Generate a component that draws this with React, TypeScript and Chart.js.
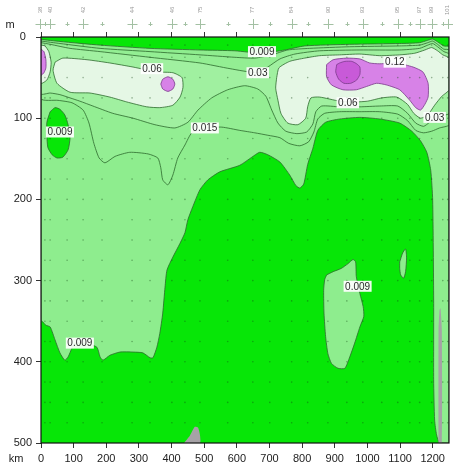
import React, { useEffect, useRef } from "react";
import { Chart, registerables } from "chart.js";

Chart.register(...registerables);
Chart.defaults.font.family = '"Liberation Sans", Arial, Helvetica, sans-serif';

// ---------- data (km along section, depth in m) ----------
const xTickKm = [0, 100, 200, 300, 400, 500, 600, 700, 800, 900, 1000, 1100, 1200];
const yTickM = [0, 100, 200, 300, 400, 500];

const stationKm = [-3, 28, 129, 279, 401, 487, 649, 768, 879, 986, 1093, 1160, 1197, 1246];
const stationName = ["38", "40", "42", "44", "46", "75", "77", "84", "90", "93", "95", "97", "99", "101"];
const minorStationKm = [12, 80, 187, 334, 441, 572, 701, 817, 937, 1044, 1130, 1231];
const sampleDepthM = [10, 25, 50, 75, 100, 125, 150, 175, 200, 225, 250, 275, 300, 325, 350, 375, 400, 425, 450, 475];

// contour 0.009 (main region above the bright-green water)
const contour009 = [
  [0, 3], [58, 5.5], [181, 10], [334, 14], [487, 16], [594, 17], [677, 20], [747, 16], [808, 11], [946, 9],
  [1099, 8], [1160, 7], [1185, 4], [1200, 2.5], [1215, 6], [1234, 11], [1250, 12],
  [1250, 500], [1221, 500], [1212, 490], [1206, 472], [1203, 422], [1203, 324], [1200, 201], [1194, 164],
  [1182, 142], [1163, 128], [1136, 116], [1099, 106], [1038, 101], [977, 99], [915, 101], [872, 105],
  [848, 115], [833, 137], [817, 157], [805, 181], [793, 186], [781, 183], [762, 170], [732, 154], [695, 145],
  [670, 142], [646, 148], [609, 158], [548, 166], [511, 176], [487, 188], [465, 209], [450, 225], [441, 241],
  [426, 254], [404, 271], [386, 287], [380, 308], [373, 340], [364, 365], [355, 382], [343, 395], [334, 395],
  [312, 389], [282, 388], [242, 388], [211, 392], [190, 398], [181, 394], [171, 382], [135, 377], [104, 377],
  [95, 383], [83, 394], [73, 398], [58, 389], [43, 373], [28, 357], [15, 355], [6, 351], [0, 349],
];
const hole009Left = [
  [28, 92], [43, 87], [58, 89], [73, 96], [83, 108], [89, 124], [83, 139], [67, 148], [49, 149], [34, 145],
  [21, 136], [18, 121], [18, 105],
];
const island009Mid = [
  [875, 293], [895, 289], [920, 285], [941, 279], [956, 274], [964, 277], [966, 295], [977, 316], [987, 332],
  [989, 344], [977, 357], [961, 377], [946, 394], [931, 408], [910, 408], [890, 402], [879, 390], [872, 369],
  [867, 340], [866, 312], [869, 299],
];
const island009Small = [
  [1099, 277], [1108, 266], [1117, 261], [1120, 272], [1117, 289], [1111, 297], [1102, 293], [1099, 285],
];
const contour015 = [
  [0, 5], [58, 8], [181, 14], [334, 18], [487, 22], [594, 25], [655, 26], [707, 22], [756, 16], [823, 14],
  [946, 12], [1099, 11], [1160, 10], [1185, 7], [1200, 5], [1215, 9], [1234, 15], [1250, 16],
  [1250, 108], [1221, 112], [1197, 116], [1172, 118], [1148, 115], [1123, 103], [1093, 95], [1038, 92],
  [977, 92], [915, 92], [869, 94], [848, 101], [836, 117], [820, 129], [793, 134], [759, 131], [732, 124],
  [695, 121], [655, 118], [609, 115], [554, 111], [502, 112], [462, 118], [441, 133], [419, 149], [404, 170],
  [389, 182], [373, 176], [367, 161], [358, 149], [328, 144], [272, 142], [227, 147], [196, 155], [178, 149],
  [162, 131], [147, 106], [129, 90], [95, 81], [52, 78], [0, 76],
];
const contour03 = [
  [0, 7], [28, 9], [89, 14], [181, 18], [334, 25], [487, 32], [579, 39], [664, 44], [695, 37], [732, 27],
  [778, 21], [854, 17], [977, 16], [1099, 16], [1160, 14], [1185, 10], [1200, 8], [1215, 12], [1234, 18],
  [1250, 21], [1250, 94], [1228, 97], [1209, 100], [1191, 105], [1172, 110], [1148, 106], [1123, 94],
  [1093, 85], [1038, 85], [977, 86], [915, 86], [860, 85], [842, 92], [833, 107], [814, 117], [784, 119],
  [750, 116], [726, 106], [707, 90], [689, 73], [664, 64], [624, 60], [572, 65], [523, 75], [481, 90],
  [450, 105], [410, 112], [349, 108], [282, 100], [220, 94], [159, 85], [119, 79], [89, 75], [58, 71],
  [28, 69], [0, 70],
];
const contour06Edge = [[0, 10], [12, 11], [24, 18], [31, 31], [28, 43], [18, 53], [0, 57]];
const contour06Left = [
  [43, 31], [67, 26], [141, 28], [211, 32], [282, 37], [355, 43], [404, 44], [432, 50], [435, 62], [426, 74],
  [404, 84], [364, 87], [324, 86], [263, 80], [211, 74], [150, 69], [89, 68], [49, 57], [37, 41],
];
const contour06Right = [
  [722, 50], [729, 38], [762, 30], [808, 26], [854, 23], [915, 22], [977, 21], [1038, 23], [1099, 22],
  [1145, 20], [1176, 16], [1197, 13], [1215, 17], [1231, 22], [1250, 26], [1250, 65], [1228, 73], [1206, 84],
  [1185, 96], [1163, 100], [1142, 94], [1123, 83], [1090, 74], [1044, 75], [1001, 79], [961, 80], [915, 79],
  [854, 74], [827, 75], [817, 86], [811, 100], [787, 108], [756, 106], [735, 94], [726, 78], [719, 63],
];
const contour12Edge = [[0, 15], [9, 18], [15, 28], [15, 38], [9, 44], [0, 47]];
const contour12Small = [[367, 58], [373, 52], [389, 49], [404, 52], [410, 58], [404, 64], [389, 67], [373, 64]];
const contour12Right = [
  [875, 34], [895, 28], [936, 26], [977, 27], [1007, 32], [1038, 33], [1089, 32], [1140, 37], [1170, 43],
  [1186, 57], [1186, 74], [1176, 83], [1163, 90], [1148, 87], [1130, 78], [1099, 65], [1058, 59], [1028, 57],
  [997, 61], [966, 65], [925, 65], [890, 59], [875, 49],
];
const contour24Core = [
  [906, 34], [915, 32], [931, 30], [952, 30], [967, 33], [977, 37], [977, 46], [967, 53], [949, 57], [928, 57],
  [912, 52], [903, 43],
];
const bottomSeamount = [[438, 500], [456, 491], [471, 480], [481, 481], [487, 490], [487, 500]];
const bottomRidge = [[1218, 500], [1218, 361], [1221, 336], [1224, 334], [1228, 361], [1228, 500]];

const contourLabelText = ["0.009", "0.12", "0.06", "0.03", "0.06", "0.03", "0.009", "0.015", "0.009", "0.009"];
const contourLabelKm = [677, 1084, 340, 664, 940, 1206, 58, 502, 970, 119];
const contourLabelDepth = [18, 31, 39, 44, 81, 99, 117, 112, 307, 377];

// ---------- styles ----------
const BRIGHT = "#07e607";
const C009 = "#8eed8e";
const C015 = "#93ee93";
const C03 = "#a0f0a0";
const C06 = "#e5f7e5";
const C12 = "#d782e7";
const C24 = "#c85ad8";
const LINE_G = "#2d6a2d";
const LINE_V = "#7a3a8a";
const GRAY = "#a6a2a6";

const layers: any[] = [
  { pts: contour009, color: C009, line: LINE_G },
  { pts: hole009Left, color: BRIGHT, line: LINE_G },
  { pts: island009Mid, color: C009, line: LINE_G },
  { pts: island009Small, color: C009, line: LINE_G },
  { pts: contour015, color: C015, line: LINE_G },
  { pts: contour03, color: C03, line: LINE_G },
  { pts: contour06Edge, color: C06, line: LINE_G },
  { pts: contour06Left, color: C06, line: LINE_G },
  { pts: contour06Right, color: C06, line: LINE_G },
  { pts: contour12Edge, color: C12, line: LINE_V },
  { pts: contour12Small, color: C12, line: LINE_V },
  { pts: contour12Right, color: C12, line: LINE_V },
  { pts: contour24Core, color: C24, line: LINE_V },
  { pts: bottomSeamount, color: GRAY, line: null },
  { pts: bottomRidge, color: GRAY, line: null },
];

const decorPlugin: any = {
  id: "decor",
  beforeDraw(chart: any) {
    const { ctx, chartArea: a } = chart;
    ctx.save();
    ctx.fillStyle = BRIGHT;
    ctx.fillRect(a.left, a.top, a.right - a.left, a.bottom - a.top);
    ctx.restore();
  },
  afterDatasetsDraw(chart: any) {
    const { ctx, chartArea: a, scales } = chart;
    ctx.save();
    ctx.beginPath();
    ctx.rect(a.left, a.top, a.right - a.left, a.bottom - a.top);
    ctx.clip();
    ctx.font = '10px "Liberation Sans", Arial, sans-serif';
    ctx.textAlign = "center";
    ctx.textBaseline = "middle";
    contourLabelText.forEach((t, i) => {
      const x = scales.x.getPixelForValue(contourLabelKm[i]);
      const y = scales.y.getPixelForValue(contourLabelDepth[i]);
      const w = ctx.measureText(t).width + 3;
      ctx.fillStyle = "rgba(255,255,255,0.93)";
      ctx.fillRect(x - w / 2, y - 5.5, w, 11);
      ctx.fillStyle = "#2a2a2a";
      ctx.fillText(t, x, y + 0.5);
    });
    ctx.restore();
    ctx.save();
    ctx.strokeStyle = "#111";
    ctx.lineWidth = 1.2;
    ctx.strokeRect(a.left, a.top, a.right - a.left, a.bottom - a.top);
    ctx.restore();
  },
  afterDraw(chart: any) {
    const { ctx, chartArea: a, scales } = chart;
    ctx.save();
    const cy = a.top - 13;
    ctx.strokeStyle = "#a3c0a3";
    ctx.lineWidth = 1;
    const cross = (km: number, s: number) => {
      const x = Math.round(scales.x.getPixelForValue(km)) + 0.5;
      ctx.beginPath();
      ctx.moveTo(x, cy - s);
      ctx.lineTo(x, cy + s);
      ctx.moveTo(x - s, cy + 0.5);
      ctx.lineTo(x + s, cy + 0.5);
      ctx.stroke();
    };
    stationKm.forEach((km) => cross(km, 5));
    minorStationKm.forEach((km) => cross(km, 2));
    ctx.fillStyle = "#999";
    ctx.font = '6px "Liberation Sans", Arial, sans-serif';
    ctx.textAlign = "center";
    ctx.textBaseline = "middle";
    stationKm.forEach((km, i) => {
      const x = scales.x.getPixelForValue(km);
      ctx.save();
      ctx.translate(x, a.top - 27);
      ctx.rotate(-Math.PI / 2);
      ctx.fillText(stationName[i], 0, 0);
      ctx.restore();
    });
    ctx.fillStyle = "#222";
    ctx.font = '11px "Liberation Sans", Arial, sans-serif';
    ctx.fillText("m", a.left - 31, a.top - 12);
    ctx.fillText("km", a.left - 25, a.bottom + 16);
    ctx.restore();
  },
};

export default function App() {
  const ref = useRef<HTMLCanvasElement>(null);
  useEffect(() => {
    const polyDatasets = layers
      .map((l: any) => ({
        type: "line",
        data: [...l.pts, l.pts[0]].map((p: number[]) => ({ x: p[0], y: p[1] })),
        fill: "shape",
        backgroundColor: l.color,
        borderColor: l.line || "rgba(0,0,0,0)",
        borderWidth: l.line ? 0.8 : 0,
        pointRadius: 0,
        tension: 0.2,
      }))
      .reverse();
    const dots: any[] = [];
    [...stationKm, ...minorStationKm].forEach((km) => {
      if (km < 0) return;
      sampleDepthM.forEach((d) => dots.push({ x: km, y: d }));
    });
    const dotSet = {
      type: "line",
      data: dots,
      showLine: false,
      pointRadius: 0.8,
      pointBorderWidth: 0,
      pointBackgroundColor: "rgba(20,70,20,0.4)",
      fill: false,
    };
    const tickAxis = (s: any, vals: number[]) => {
      s.ticks = vals.map((v) => ({ value: v }));
    };
    const chart = new Chart(ref.current as HTMLCanvasElement, {
      type: "line",
      data: { datasets: [dotSet, ...polyDatasets] as any },
      plugins: [decorPlugin],
      options: {
        animation: false,
        responsive: false,
        events: [],
        layout: { padding: { left: 0, right: 4, top: 0, bottom: 0 } },
        plugins: { legend: { display: false }, tooltip: { enabled: false } },
        scales: {
          x: {
            type: "linear",
            position: "bottom",
            min: 0,
            max: 1250,
            afterBuildTicks: (s: any) => tickAxis(s, xTickKm),
            afterFit: (s: any) => {
              s.height = 29;
            },
            grid: { drawOnChartArea: false, tickLength: 5, color: "#333" },
            border: { display: false },
            ticks: {
              color: "#222",
              font: { size: 11 },
              padding: 4,
              maxRotation: 0,
              autoSkip: false,
              includeBounds: false,
              callback: (v: any) => String(v),
            },
          },
          x2: {
            type: "linear",
            position: "top",
            min: 0,
            max: 1250,
            afterBuildTicks: (s: any) => tickAxis(s, xTickKm),
            afterFit: (s: any) => {
              s.height = 37;
            },
            grid: { drawOnChartArea: false, tickLength: 5, color: "#333" },
            border: { display: false },
            ticks: { display: false },
          },
          y: {
            type: "linear",
            reverse: true,
            min: 0,
            max: 500,
            afterBuildTicks: (s: any) => tickAxis(s, yTickM),
            afterFit: (s: any) => {
              s.width = 41;
            },
            grid: { drawOnChartArea: false, tickLength: 5, color: "#333" },
            border: { display: false },
            ticks: { color: "#222", font: { size: 11 }, padding: 4, crossAlign: "center", callback: (v: any) => String(v) },
          },
        },
      } as any,
    });
    return () => chart.destroy();
  }, []);
  return (
    <div style={{ position: "fixed", left: 0, top: 0, width: 453, height: 472, background: "#fff" }}>
      <canvas ref={ref} width={453} height={472} style={{ display: "block", width: 453, height: 472 }} />
    </div>
  );
}
